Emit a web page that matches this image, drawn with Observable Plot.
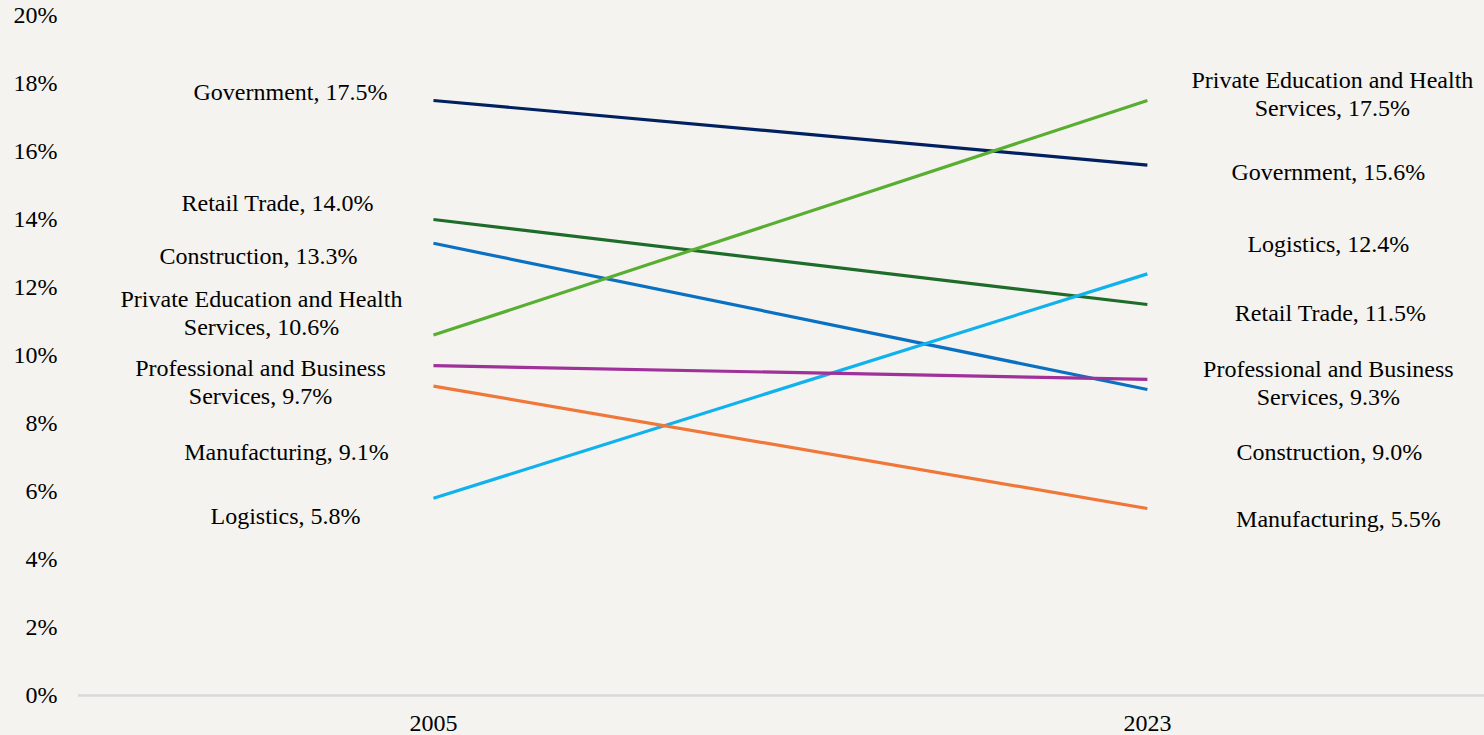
<!DOCTYPE html>
<html><head><meta charset="utf-8">
<script src="https://cdn.jsdelivr.net/npm/d3@7"></script>
<script src="https://cdn.jsdelivr.net/npm/@observablehq/plot@0.6"></script>
<style>
html,body{margin:0;padding:0;background:#f4f3ef;overflow:hidden;}
#chart svg{display:block;}
</style></head><body><div id="chart"></div>
<script>
// ---- data ----
const years = [2005, 2023];
const industries = ["Government", "Retail Trade", "Construction", "Private Education and Health Services", "Logistics", "Professional and Business Services", "Manufacturing"];
const share2005 = [17.5, 14.0, 13.3, 10.6, 5.8, 9.7, 9.1];
const share2023 = [15.6, 11.5, 9.0, 17.5, 12.4, 9.3, 5.5];
const yTicks = [0, 2, 4, 6, 8, 10, 12, 14, 16, 18, 20];

// ---- styles / label layout ----
const colors = ["#002060", "#1e6b2a", "#0a70c2", "#58ae30", "#10b2ee", "#a0309a", "#f0773a"];
const labelAt2005 = [17.78, 14.51, 12.95, 11.28, 5.31, 9.25, 7.19];   // label centre, in % units
const labelAt2023 = [15.42, 11.28, 7.19, 17.72, 13.31, 9.22, 5.22];
const labelShift2005 = [-143, -156, -175, -172, -148, -173, -147];     // px offsets of label centre
const labelShift2023 = [181, 183, 182, 185, 181, 181, 191];

const font = "'Liberation Serif', 'Times New Roman', serif";

const rows = industries.flatMap((name, i) => [
  {name, year: years[0], value: share2005[i]},
  {name, year: years[1], value: share2023[i]}
]);

const labelText = (name, v) => name.replace(" Services", "\nServices") + ", " + v.toFixed(1) + "%";

const labelMarks = industries.flatMap((name, i) => [
  Plot.text([{name, year: years[0], y: labelAt2005[i], t: labelText(name, share2005[i])}],
    {x: "year", y: "y", text: "t", dx: labelShift2005[i], textAnchor: "middle", lineAnchor: "middle",
     lineHeight: 1.15, fill: "#000", fontSize: 24}),
  Plot.text([{name, year: years[1], y: labelAt2023[i], t: labelText(name, share2023[i])}],
    {x: "year", y: "y", text: "t", dx: labelShift2023[i], textAnchor: "middle", lineAnchor: "middle",
     lineHeight: 1.15, fill: "#000", fontSize: 24})
]);

const chart = Plot.plot({
  width: 1484,
  height: 735,
  marginLeft: 78,
  marginRight: 0,
  marginTop: 15,
  marginBottom: 40,
  style: {background: "#f4f3ef", fontFamily: font, fontSize: "24px", color: "#000"},
  x: {type: "linear", domain: [years[0] - 8.95, years[1] + 8.5], ticks: years, tickFormat: d => String(d),
      tickSize: 0, tickPadding: 18, label: null},
  y: {domain: [0, 20], ticks: yTicks, tickFormat: d => d + "%", tickSize: 0, tickPadding: 21, label: null},
  color: {domain: industries, range: colors},
  marks: [
    Plot.ruleY([0], {stroke: "#d9d9d9", strokeWidth: 2.5}),
    Plot.line(rows, {x: "year", y: "value", z: "name", stroke: "name", strokeWidth: 3.2, strokeLinecap: "butt"}),
    ...labelMarks
  ]
});
document.getElementById("chart").appendChild(chart);
</script>
</body></html>
